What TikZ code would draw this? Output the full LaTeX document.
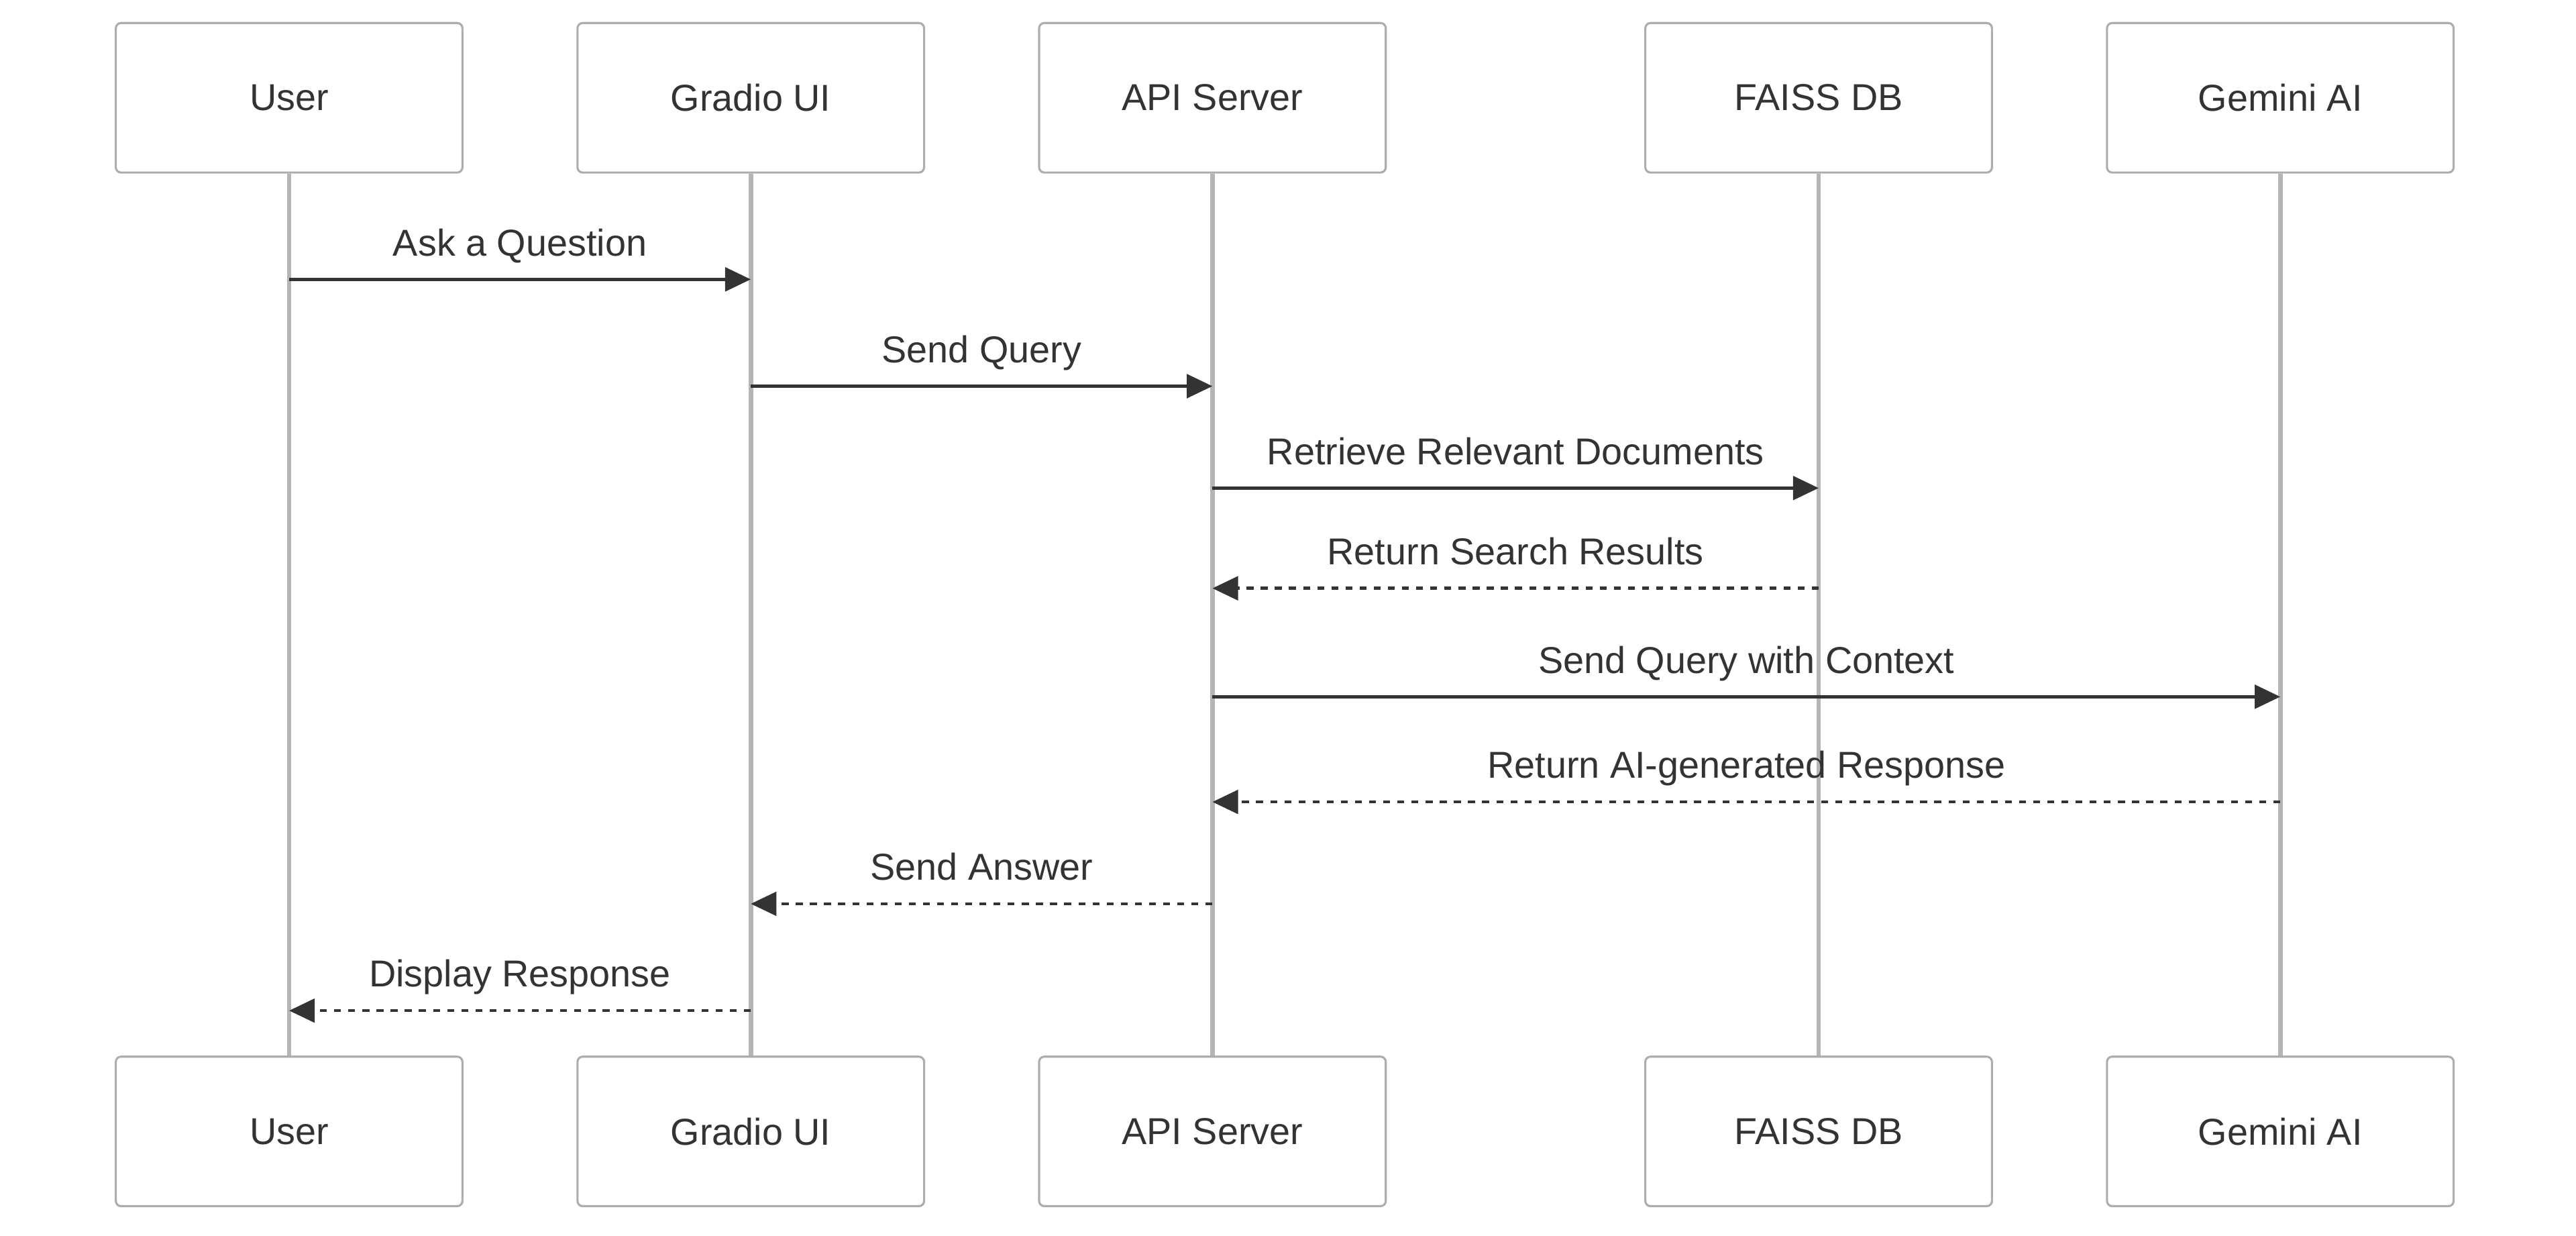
\documentclass[tikz,border=0pt]{standalone}
\usepackage{fontspec}
\setmainfont{Liberation Sans}
\usepackage{tikz}
\usetikzlibrary{arrows.meta}

\definecolor{inkgray}{HTML}{333333}
\definecolor{linegray}{HTML}{B5B5B5}
\definecolor{boxgray}{HTML}{ADADAD}

\tikzset{
    actor/.style={draw=boxgray, line width=0.32mm, fill=white, rounded corners=0.8mm,
        minimum width=52.75mm, minimum height=22.75mm, text=inkgray,
        font=\fontsize{16.2}{20}\selectfont},
    lifeline/.style={draw=linegray, line width=0.68mm},
    msg/.style={draw=inkgray, line width=0.48mm, -{Triangle[length=3.9mm, width=3.6mm]}},
    reply/.style={msg, dash pattern=on 1.05mm off 1.1mm},
    msglabel/.style={text=inkgray, font=\fontsize{16.2}{20}\selectfont, anchor=base, yshift=3.6mm}
}

\begin{document}
\begin{tikzpicture}[x=0.25mm, y=-0.25mm]
    \useasboundingbox (0,0) rectangle (1568,752);

    \node [actor] (user)   at (176,59.5)  {User};
    \node [actor] (gradio) at (457,59.5)  {Gradio UI};
    \node [actor] (api)    at (738,59.5)  {API Server};
    \node [actor] (faiss)  at (1107,59.5) {FAISS DB};
    \node [actor] (gemini) at (1388,59.5) {Gemini AI};

    \node [actor] (userB)   at (176,688.5)  {User};
    \node [actor] (gradioB) at (457,688.5)  {Gradio UI};
    \node [actor] (apiB)    at (738,688.5)  {API Server};
    \node [actor] (faissB)  at (1107,688.5) {FAISS DB};
    \node [actor] (geminiB) at (1388,688.5) {Gemini AI};

    \draw [lifeline] (user) -- (userB);
    \draw [lifeline] (gradio) -- (gradioB);
    \draw [lifeline] (api) -- (apiB);
    \draw [lifeline] (faiss) -- (faissB);
    \draw [lifeline] (gemini) -- (geminiB);

    \coordinate (m1) at (0,170);  \coordinate (m2) at (0,235);
    \coordinate (m3) at (0,297);  \coordinate (m4) at (0,358);
    \coordinate (m5) at (0,424);  \coordinate (m6) at (0,488);
    \coordinate (m7) at (0,550);  \coordinate (m8) at (0,615);

    \draw [msg] (user |- m1) -- (gradio |- m1) node [msglabel, midway] {Ask a Question};
    \draw [msg] (gradio |- m2) -- (api |- m2) node [msglabel, midway] {Send Query};
    \draw [msg] (api |- m3) -- (faiss |- m3) node [msglabel, midway] {Retrieve Relevant Documents};
    \draw [reply] (faiss |- m4) -- (api |- m4) node [msglabel, midway] {Return Search Results};
    \draw [msg] (api |- m5) -- (gemini |- m5) node [msglabel, midway] {Send Query with Context};
    \draw [reply] (gemini |- m6) -- (api |- m6) node [msglabel, midway] {Return AI-generated Response};
    \draw [reply] (api |- m7) -- (gradio |- m7) node [msglabel, midway] {Send Answer};
    \draw [reply] (gradio |- m8) -- (user |- m8) node [msglabel, midway] {Display Response};
\end{tikzpicture}
\end{document}
